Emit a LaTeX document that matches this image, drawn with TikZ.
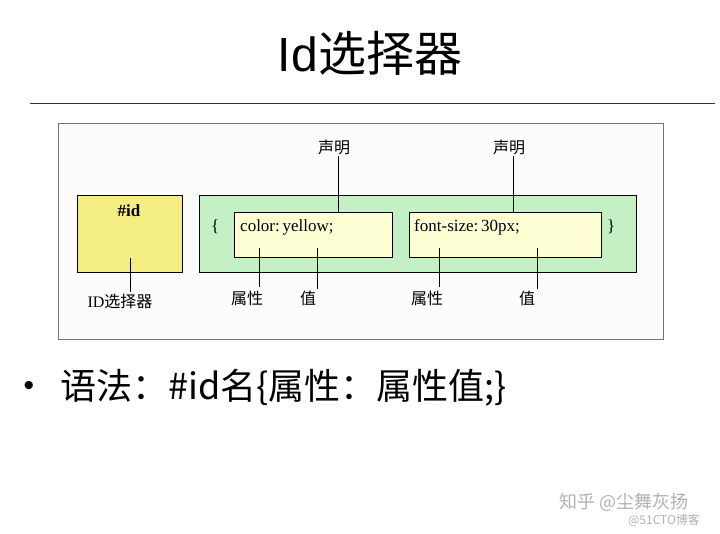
\documentclass[tikz,border=0pt]{standalone}
\usepackage{fontspec}
\setmainfont{Liberation Serif}
\newfontfamily\cjk{Noto Sans CJK SC}
\newfontfamily\hei{Liberation Sans}
\usepackage{tikz}
\usetikzlibrary{positioning}

\definecolor{idyellow}{HTML}{F4EE82}
\definecolor{declgreen}{HTML}{C4F0C4}
\definecolor{propyellow}{HTML}{FFFFD6}

\begin{document}
\begin{tikzpicture}[x=1pt,y=-1pt,
  box/.style={draw=black,line width=0.7pt,anchor=north west,inner sep=0pt},
  lbl/.style={font=\cjk\fontsize{16}{18}\selectfont,inner sep=1pt},
  code/.style={font=\fontsize{17}{19}\selectfont,anchor=west,inner sep=0pt},
  pin/.style={line width=0.6pt}]
\useasboundingbox[fill=white] (0,0) rectangle (720,533);
\node[font=\fontsize{48}{50}\selectfont] (title) at (370,53) {{\hei Id}{\cjk 选择器}};
\coordinate (rulel) at (30,103);
\coordinate (ruler) at (715,103);
\draw[line width=0.8pt,black!80] (rulel) -- (ruler);

\node[box,draw=black!55,fill=black!1,minimum width=605,minimum height=216] (frame) at (58,123) {};
\node[box,fill=idyellow,minimum width=105,minimum height=77] (idbox) at (77,195) {};
\node[box,fill=declgreen,minimum width=437,minimum height=77] (declbox) at (199,195) {};
\node[box,fill=propyellow,minimum width=158,minimum height=45] (prop1) at (234,212) {};
\node[box,fill=propyellow,minimum width=192,minimum height=45] (prop2) at (409,212) {};

\node[font=\bfseries\fontsize{17}{19}\selectfont] (idtxt) at (129,211) {\#id};
\node[code] (lbrace) at (211,227) {\{};
\node[code] (rbrace) at (607,227) {\}};
\node[code] (code1) at (240,227) {color:\,yellow;};
\node[code] (code2) at (414,227) {font-size:\,30px;};

\node[lbl] (decl1) at (334,147) {声明};
\node[lbl] (decl2) at (509,147) {声明};
\draw[pin] (decl1.south -| 338,0) -- (338,0 |- prop1.north);
\draw[pin] (decl2.south -| 513,0) -- (513,0 |- prop2.north);

\node[lbl] (idlbl) at (120,301) {{\fontspec{Liberation Serif}ID}选择器};
\coordinate (idpin) at (130,258);
\draw[pin] (idpin) -- (idpin |- idlbl.north);

\node[lbl] (attr1) at (247,298) {属性};
\node[lbl] (val1) at (308,298) {值};
\node[lbl] (attr2) at (427,298) {属性};
\node[lbl] (val2) at (527,298) {值};
\coordinate (attr1pin) at (259,248);
\coordinate (val1pin) at (317,248);
\coordinate (attr2pin) at (439,248);
\coordinate (val2pin) at (537,248);
\draw[line width=1pt] (attr1pin) -- ([yshift=2pt]attr1pin |- attr1.north);
\draw[pin] (val1pin) -- (val1pin |- val1.north);
\draw[line width=1pt] (attr2pin) -- ([yshift=2pt]attr2pin |- attr2.north);
\draw[pin] (val2pin) -- (val2pin |- val2.north);

\node[font=\hei\fontsize{30}{32}\selectfont] (bullet) at (29,388) {•};
\node[font=\cjk\fontsize{36}{38}\selectfont,anchor=west,inner sep=0pt] (syntax) at (60,388)
  {语法：\#id名\{属性：属性值;\}};

% watermarks
\node[font=\cjk\fontsize{18}{20}\selectfont,text=black!30] (zhihu) at (624,502) {知乎 @尘舞灰扬};
\node[font=\cjk\fontsize{12}{14}\selectfont,text=black!30] (blog) at (664,520) {@51CTO博客};
\end{tikzpicture}
\end{document}
